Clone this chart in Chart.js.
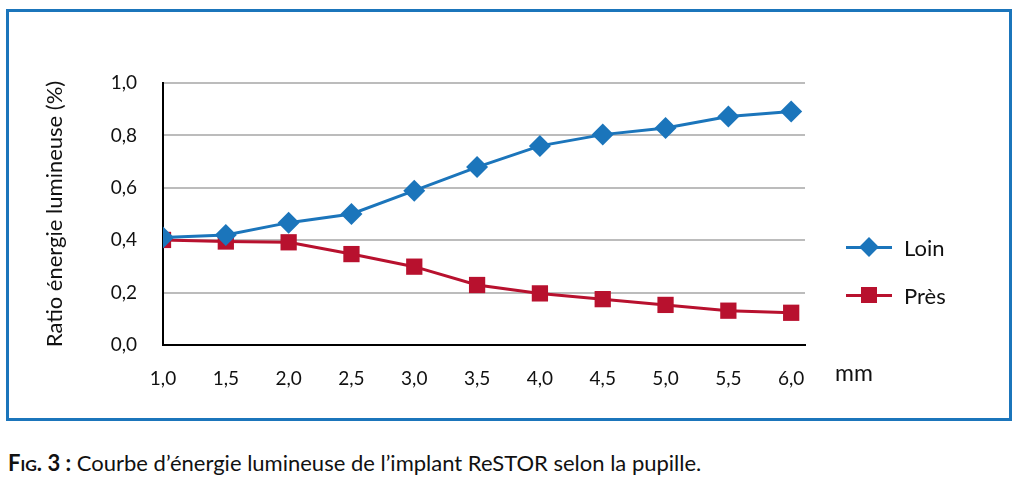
<!DOCTYPE html>
<html>
<head>
<meta charset="utf-8">
<script src="https://cdn.jsdelivr.net/npm/chart.js@4"></script>
<style>
	body { margin: 0; width: 1020px; height: 496px; background: #fff; position: relative; font-family: Lato, sans-serif; overflow: hidden; }
	#frame { position: absolute; left: 6px; top: 9px; width: 1000px; height: 406px; border: 3px solid #1b75bb; }
	#chart-wrap { position: absolute; left: 0; top: 0; width: 1020px; height: 430px; }
	#unit { position: absolute; left: 835px; top: 358px; font-size: 23px; color: #111; }
	.legend-item { position: absolute; left: 846px; height: 30px; display: flex; align-items: center; font-size: 22px; color: #111; }
	.legend-item .line { position: relative; width: 46px; height: 3px; margin-right: 12px; }
	.legend-item .mark { position: absolute; left: 15px; top: -7px; width: 16px; height: 16px; }
	.legend-item .mark.diamond { transform: rotate(45deg); left: 16px; top: -6px; width: 14px; height: 14px; }
	#caption { position: absolute; left: 8px; top: 449px; font-size: 22px; color: #111; }
	#caption b { font-weight: bold; }
	#caption .sc { font-size: 16px; }
</style>
</head>
<body>
<div id="frame"></div>
<div id="chart-wrap"><canvas id="pupil-canvas"></canvas></div>
<div id="unit">mm</div>
<div class="legend-item" style="top: 232px;"><span class="line" style="background:#1b75bb"><span class="mark diamond" style="background:#1b75bb"></span></span>Loin</div>
<div class="legend-item" style="top: 280px;"><span class="line" style="background:#b8112e"><span class="mark" style="background:#b8112e"></span></span>Près</div>
<div id="caption"><b>F<span class="sc">IG</span>. 3 :</b> Courbe d’énergie lumineuse de l’implant ReSTOR selon la pupille.</div>

<script>
// pupil diameter (mm)
const pupilSizes = [1.0, 1.5, 2.0, 2.5, 3.0, 3.5, 4.0, 4.5, 5.0, 5.5, 6.0];
const xTickLabels = ['1,0', '1,5', '2,0', '2,5', '3,0', '3,5', '4,0', '4,5', '5,0', '5,5', '6,0'];
// light energy ratio
const loinValues = [0.41, 0.42, 0.467, 0.50, 0.589, 0.679, 0.76, 0.803, 0.828, 0.872, 0.891];
const presValues = [0.401, 0.395, 0.392, 0.347, 0.299, 0.229, 0.197, 0.175, 0.153, 0.131, 0.123];
const yTicks = [0, 0.2, 0.4, 0.6, 0.8, 1.0];
const yTickLabels = ['0,0', '0,2', '0,4', '0,6', '0,8', '1,0'];

const blue = '#1b75bb';
const red = '#b8112e';

function toPoints (values) {
	return pupilSizes.map((x, i) => ({ x: x, y: values[i] }));
}

const ctx = document.getElementById('pupil-canvas');
const chart = new Chart(ctx, {
	type: 'line',
	data: {
		datasets: [{
			label: 'Loin',
			data: toPoints(loinValues),
			borderColor: blue,
			backgroundColor: blue,
			borderWidth: 3,
			pointStyle: 'rectRot',
			pointRadius: 11,
			pointBorderWidth: 0,
			tension: 0
		}, {
			label: 'Près',
			data: toPoints(presValues),
			borderColor: red,
			backgroundColor: red,
			borderWidth: 3,
			pointStyle: 'rect',
			pointRadius: 11.5,
			pointBorderWidth: 0,
			tension: 0
		}]
	},
	options: {
		responsive: true,
		maintainAspectRatio: false,
		animation: false,
		layout: { padding: { left: 42, top: 83, right: 215, bottom: 30 } },
		plugins: {
			legend: { display: false },
			tooltip: { enabled: false }
		},
		scales: {
			x: {
				type: 'linear',
				min: 1,
				max: 6.11,
				afterBuildTicks: (scale) => { scale.ticks = pupilSizes.map(v => ({ value: v })); },
				afterFit: (scale) => { scale.height = 55; },
				grid: { display: false },
				border: { display: true, color: '#000', width: 2 },
				ticks: {
					color: '#111',
					padding: 14,
					font: { family: 'Lato', size: 19 },
					maxRotation: 0,
					autoSkip: false,
					callback: (v, i) => xTickLabels[i]
				}
			},
			y: {
				min: 0,
				max: 1,
				afterBuildTicks: (scale) => { scale.ticks = yTicks.map(v => ({ value: v })); },
				afterFit: (scale) => { scale.width = 121; },
				grid: { color: '#bcbcbc', lineWidth: 2, drawTicks: false },
				border: { display: true, color: '#000', width: 2 },
				ticks: {
					color: '#111',
					padding: 26,
					font: { family: 'Lato', size: 19 },
					callback: (v, i) => yTickLabels[i]
				},
				title: {
					display: true,
					text: 'Ratio énergie lumineuse (%)',
					color: '#111',
					font: { family: 'Lato', size: 22 },
					padding: { top: 0, bottom: 6 }
				}
			}
		}
	}
});
</script>
</body>
</html>
